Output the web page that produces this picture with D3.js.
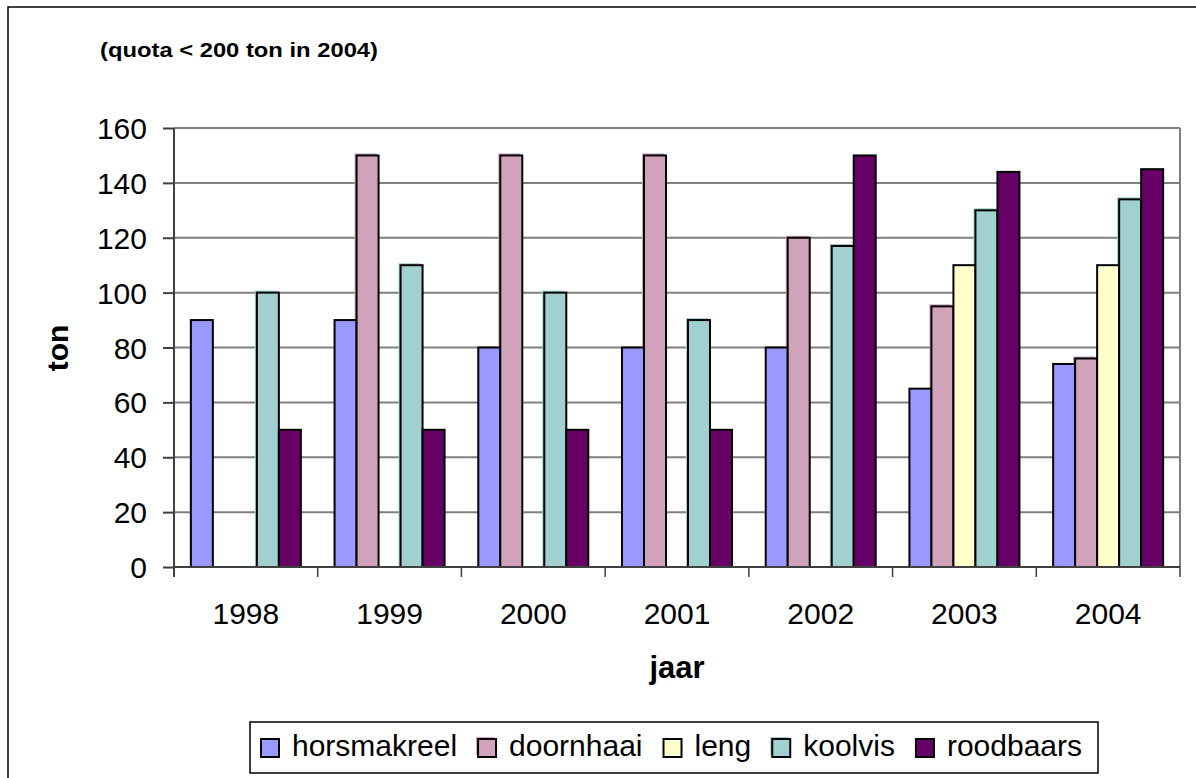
<!DOCTYPE html>
<html><head><meta charset="utf-8">
<script src="https://cdn.jsdelivr.net/npm/d3@7"></script>
<style>body{margin:0;background:#fff}svg{display:block;font-family:Arial,"Liberation Sans",sans-serif}</style>
</head><body>
<svg id="c" width="1196" height="778"></svg>
<script>
const years = ["1998","1999","2000","2001","2002","2003","2004"];
const seriesNames = ["horsmakreel","doornhaai","leng","koolvis","roodbaars"];
const horsmakreel = [90,90,80,80,80,65,74];
const doornhaai   = [0,150,150,150,120,95,76];
const leng        = [0,0,0,0,0,110,110];
const koolvis     = [100,110,100,90,117,130,134];
const roodbaars   = [50,50,50,50,150,144,145];
const yTicks = [0,20,40,60,80,100,120,140,160];
const colors = ["#9999FF","#D1A3BB","#FFFFCC","#A0D0D0","#660066"];
const shadowed = [false,true,false,true,false];

const values = [horsmakreel,doornhaai,leng,koolvis,roodbaars];
const svg = d3.select("#c");
const L=174, R=1180, T=128, B=567;

// outer border
svg.append("rect").attr("x",8).attr("y",7).attr("width",1300).attr("height",900)
  .attr("fill","#fff").attr("stroke","#000").attr("stroke-width",1.5);

svg.append("text").attr("x",100).attr("y",57).attr("font-size",20).attr("font-weight","bold")
  .attr("textLength",278).attr("lengthAdjust","spacingAndGlyphs").text("(quota < 200 ton in 2004)");

const x = d3.scaleBand().domain(years).range([L,R]).padding(0);
const xs = d3.scaleBand().domain(seriesNames).range([0,x.bandwidth()]).paddingInner(0).paddingOuter(0.766);
const y = d3.scaleLinear().domain([0,160]).range([B,T]);

// gridlines
svg.append("g").selectAll("line").data(yTicks.filter(d=>d>0)).join("line")
  .attr("x1",L).attr("x2",R).attr("y1",d=>y(d)).attr("y2",d=>y(d))
  .attr("stroke","#808080").attr("stroke-width",2);
svg.append("line").attr("x1",R).attr("x2",R).attr("y1",T).attr("y2",B).attr("stroke","#808080").attr("stroke-width",2);

// bars
const data = [];
years.forEach((yr,i)=>seriesNames.forEach((s,j)=>{ if(values[j][i]>0) data.push({yr,s,j,v:values[j][i]}); }));
const g = svg.append("g");
g.selectAll("rect.sh").data(data.filter(d=>shadowed[d.j])).join("rect").attr("class","sh")
  .attr("x",d=>x(d.yr)+xs(d.s)-2).attr("y",d=>y(d.v)-2)
  .attr("width",xs.bandwidth()).attr("height",d=>B-y(d.v)+2).attr("fill",d=>colors[d.j]);
g.selectAll("rect.b").data(data).join("rect").attr("class","b")
  .attr("x",d=>x(d.yr)+xs(d.s)).attr("y",d=>y(d.v))
  .attr("width",xs.bandwidth()).attr("height",d=>B-y(d.v))
  .attr("fill",d=>colors[d.j]).attr("stroke","#000").attr("stroke-width",2);

// y axis
const ya = svg.append("g").attr("transform",`translate(${L},0)`)
  .call(d3.axisLeft(y).tickValues(yTicks).tickSize(11).tickPadding(16));
ya.select(".domain").remove();
ya.selectAll(".tick line").attr("stroke","#404040").attr("stroke-width",2);
ya.selectAll(".tick text").attr("font-size",30).attr("font-family","Arial,'Liberation Sans',sans-serif").attr("fill","#000").attr("dy","0.35em");
svg.append("line").attr("x1",L).attr("x2",L).attr("y1",T).attr("y2",B+10).attr("stroke","#404040").attr("stroke-width",2);

// x axis
const xa = svg.append("g").attr("transform",`translate(0,${B})`)
  .call(d3.axisBottom(x).tickSize(0).tickPadding(0));
xa.select(".domain").remove();
xa.selectAll(".tick text").attr("font-size",30).attr("font-family","Arial,'Liberation Sans',sans-serif").attr("fill","#000").attr("dy",null).attr("y",57);
svg.append("line").attr("x1",L).attr("x2",R).attr("y1",B).attr("y2",B).attr("stroke","#404040").attr("stroke-width",2);
svg.append("g").selectAll("line").data(years.map(d=>x(d)).concat([R])).join("line")
  .attr("x1",d=>d).attr("x2",d=>d).attr("y1",B).attr("y2",B+10).attr("stroke","#404040").attr("stroke-width",1.5);

// axis titles
svg.append("text").attr("x",(L+R)/2).attr("y",678).attr("text-anchor","middle")
  .attr("font-size",31).attr("font-weight","bold").text("jaar");
svg.append("text").attr("transform","translate(68,348) rotate(-90)").attr("text-anchor","middle")
  .attr("font-size",30).attr("font-weight","bold").text("ton");

// legend
svg.append("rect").attr("x",250).attr("y",722).attr("width",848).attr("height",51)
  .attr("fill","#fff").attr("stroke","#000").attr("stroke-width",1.5);
let lx = 261;
const lg = svg.append("g");
seriesNames.forEach((s,j)=>{
  if(shadowed[j]) lg.append("rect").attr("x",lx-2).attr("y",737).attr("width",18).attr("height",18).attr("fill",colors[j]);
  lg.append("rect").attr("x",lx).attr("y",739).attr("width",18).attr("height",18)
    .attr("fill",colors[j]).attr("stroke","#000").attr("stroke-width",2);
  const t = lg.append("text").attr("x",lx+31).attr("y",756).attr("font-size",30).text(s);
  lx = lx + 31 + t.node().getComputedTextLength() + 21;
});
</script>
</body></html>
